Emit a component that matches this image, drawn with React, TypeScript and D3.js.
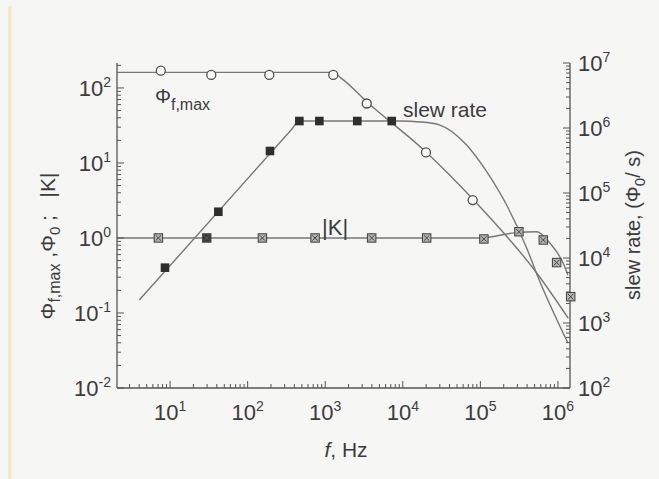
import React from 'react';
import * as d3 from 'd3';

// Φf,max (open circles, left axis)
const phiFreq = [7.6, 34, 190, 1270, 3430, 19900, 79600];
const phiVal = [170, 149, 149, 149, 62, 13.8, 3.2];
const phiFitFreq = [2.07, 1225, 1710, 3430, 19900, 79600, 557000, 1.36e6];
const phiFitVal = [161, 161, 128, 65.6, 14.0, 3.31, 0.321, 0.085];

// slew rate (filled squares, right axis)
const slewFreq = [8.6, 41.9, 194, 464, 840, 2590, 7200];
const slewVal = [7100, 51500, 443000, 1.28e6, 1.28e6, 1.28e6, 1.28e6];
const slewFitFreq = [4.02, 373, 459, 9200, 16700, 30100, 66500, 120500, 218000, 395000, 553000, 1.345e6];
const slewFitVal = [2260, 966000, 1.28e6, 1.28e6, 1.24e6, 1.11e6, 547000, 213000, 65300, 14300, 5100, 492];

// |K| (crossed squares, left axis)
const kFreq = [7.07, 29.7, 155, 740, 3970, 20300, 111000, 314000, 647000, 962000, 1.46e6];
const kVal = [1.0, 1.0, 1.0, 1.0, 1.0, 1.0, 0.97, 1.21, 0.94, 0.47, 0.165];
const kFitFreq = [2.07, 98900, 279000, 532000, 789000, 1.17e6, 1.345e6];
const kFitVal = [1.0, 1.0, 1.17, 1.21, 0.85, 0.46, 0.32];

const xExps = [1, 2, 3, 4, 5, 6];
const leftExps = [-2, -1, 0, 1, 2];
const rightExps = [2, 3, 4, 5, 6, 7];

const L = 117, R = 570, T = 63, B = 388;
const x = d3.scaleLog().domain([2.07, 1.43e6]).range([L, R]);
const yL = d3.scaleLog().domain([0.01, 215]).range([B, T]);
const yR = d3.scaleLog().domain([100, 1e7]).range([B, T]);

const font = 'Liberation Sans, Arial, Helvetica, sans-serif';
const ink = '#3c3c3c';
const axisCol = '#555';
const lineCol = '#777';

const isMajor = (v: number) => Math.abs(Math.log10(v) - Math.round(Math.log10(v))) < 1e-9;

function fit(fx: number[], fy: number[], ys: d3.ScaleLogarithmic<number, number>) {
  const pts: [number, number][] = fx.map((f, i) => [x(f), ys(fy[i])]);
  return d3.line().curve(d3.curveMonotoneX)(pts) || '';
}

function Pow({ e, ...rest }: any) {
  return (
    <text {...rest} fontFamily={font} fill={ink} fontSize={22}>
      10<tspan fontSize={14} dy={-9}>{e}</tspan>
    </text>
  );
}

export default function App() {
  const xt = x.ticks().filter(v => v >= x.domain()[0] && v <= x.domain()[1]);
  const ltl = yL.ticks();
  const rtl = yR.ticks();

  return (
    <svg width={659} height={479} style={{ position: 'absolute', left: 0, top: 0, display: 'block' }}>
      <rect width={659} height={479} fill="#f6f6f5" />
      <rect x={8} y={6} width={3.5} height={473} fill="#f3e6b4" opacity={0.75} />

      {/* fitted curves */}
      <g fill="none" stroke={lineCol} strokeWidth={1.4}>
        <path d={fit(phiFitFreq, phiFitVal, yL)} />
        <path d={fit(slewFitFreq, slewFitVal, yR)} />
        <path d={fit(kFitFreq, kFitVal, yL)} />
      </g>

      {/* axes */}
      <g stroke={axisCol} strokeWidth={1.3}>
        <line x1={L} y1={T} x2={L} y2={B} />
        <line x1={R} y1={T} x2={R} y2={B} />
        <line x1={L} y1={B} x2={R} y2={B} />
        {xt.map((v, i) => (
          <line key={'x' + i} x1={x(v)} x2={x(v)} y1={B} y2={B - (isMajor(v) ? 7 : 4)} strokeWidth={1} />
        ))}
        {ltl.map((v, i) => (
          <line key={'l' + i} x1={L} x2={L + (isMajor(v) ? 7 : 4)} y1={yL(v)} y2={yL(v)} strokeWidth={1} />
        ))}
        {rtl.map((v, i) => (
          <line key={'r' + i} x1={R} x2={R - (isMajor(v) ? 7 : 4)} y1={yR(v)} y2={yR(v)} strokeWidth={1} />
        ))}
      </g>

      {/* tick labels */}
      {xExps.map(e => (
        <Pow key={'xl' + e} e={e} x={x(Math.pow(10, e))} y={420} textAnchor="middle" />
      ))}
      {leftExps.map(e => (
        <Pow key={'ll' + e} e={e} x={111} y={yL(Math.pow(10, e)) + 8} textAnchor="end" />
      ))}
      {rightExps.map(e => (
        <Pow key={'rl' + e} e={e} x={578} y={yR(Math.pow(10, e)) + 8} textAnchor="start" />
      ))}

      {/* markers: |K| */}
      {kFreq.map((f, i) => {
        const cx = x(f), cy = yL(kVal[i]), s = 4.2;
        return (
          <g key={'k' + i}>
            <rect x={cx - s} y={cy - s} width={2 * s} height={2 * s}
              fill={i === 1 ? '#3a3a3a' : '#b4b4b4'} stroke="#4a4a4a" strokeWidth={1.1} />
            <path d={`M${cx - s + 1.5},${cy - s + 1.5}L${cx + s - 1.5},${cy + s - 1.5}M${cx + s - 1.5},${cy - s + 1.5}L${cx - s + 1.5},${cy + s - 1.5}`}
              stroke={i === 1 ? '#555' : '#444'} strokeWidth={1} />
          </g>
        );
      })}
      {/* markers: slew rate */}
      {slewFreq.map((f, i) => (
        <rect key={'s' + i} x={x(f) - 4.3} y={yR(slewVal[i]) - 4.3} width={8.6} height={8.6} fill="#2e2e2e" />
      ))}
      {/* markers: Φf,max */}
      {phiFreq.map((f, i) => (
        <circle key={'p' + i} cx={x(f)} cy={yL(phiVal[i])} r={4.5} fill="#f8f8f8" stroke="#505050" strokeWidth={1.3} />
      ))}

      {/* in-plot labels */}
      <text x={155} y={103} fontFamily={font} fontSize={20} fill={ink}>
        Φ<tspan fontSize={16} dy={7}>f,max</tspan>
      </text>
      <text x={403} y={117} fontFamily={font} fontSize={21} fill={ink}>slew rate</text>
      <text x={322} y={235} fontFamily={font} fontSize={22} fill={ink}>|K|</text>

      {/* axis titles */}
      <text x={346} y={457} fontFamily={font} fontSize={21} fill={ink} textAnchor="middle">
        <tspan fontStyle="italic">f</tspan>, Hz
      </text>
      <text transform="translate(55,246) rotate(-90)" fontFamily={font} fontSize={21} fill={ink} textAnchor="middle">
        Φ<tspan fontSize={16} dy={5}>f,max</tspan><tspan dy={-5}>{'\u00a0,'}</tspan>Φ<tspan fontSize={15} dy={5}>0</tspan><tspan dy={-5}>{'\u00a0;\u00a0\u00a0\u00a0|K|'}</tspan>
      </text>
      <text transform="translate(640,225) rotate(-90)" fontFamily={font} fontSize={20} fill={ink} textAnchor="middle">
        slew rate, (Φ<tspan fontSize={15} dy={5}>0</tspan><tspan dy={-5}>/ s)</tspan>
      </text>
    </svg>
  );
}
